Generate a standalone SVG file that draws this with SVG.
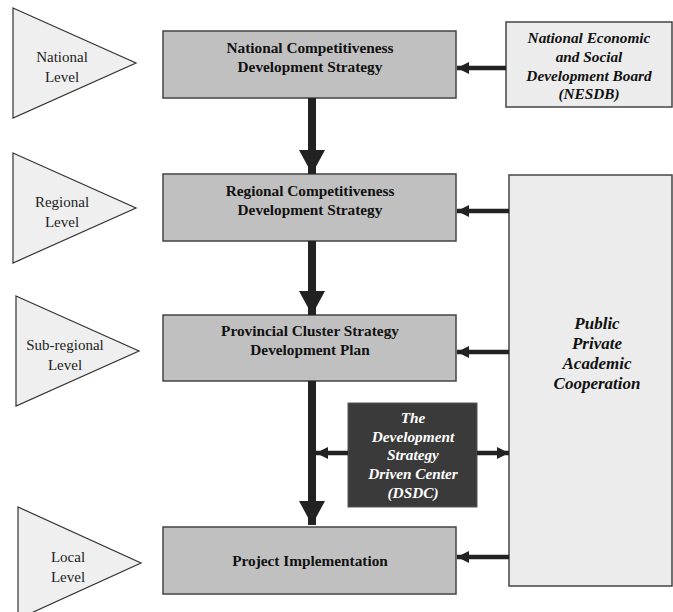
<svg xmlns="http://www.w3.org/2000/svg" width="673" height="612" viewBox="0 0 673 612">
<defs>
<style>
.tri{fill:#efefef;stroke:#333;stroke-width:1.2}
.box{fill:#c0c0c0;stroke:#444;stroke-width:1.5}
.lbox{fill:#ececec;stroke:#444;stroke-width:1.5}
.dbox{fill:#3a3a3a;stroke:#555;stroke-width:1}
.tl{font-family:"Liberation Serif",serif;font-size:15px;fill:#222;text-anchor:middle}
.tb{font-family:"Liberation Serif",serif;font-size:15.3px;font-weight:bold;fill:#111;text-anchor:middle}
.tbi{font-family:"Liberation Serif",serif;font-size:15.3px;font-weight:bold;font-style:italic;fill:#111;text-anchor:middle}
.tbig{font-family:"Liberation Serif",serif;font-size:17px;font-weight:bold;font-style:italic;fill:#111;text-anchor:middle}
.tw{font-family:"Liberation Serif",serif;font-size:15.3px;font-weight:bold;font-style:italic;fill:#fff;text-anchor:middle}
.big{stroke:#222;stroke-width:8;fill:none}
.sm{stroke:#222;stroke-width:4.5;fill:none}
</style>
<marker id="bh" markerUnits="userSpaceOnUse" markerWidth="24" markerHeight="26" refX="24" refY="13" orient="auto" viewBox="0 0 24 26"><path d="M0,0 L24,13 L0,26 z" fill="#222"/></marker>
<marker id="sh" markerUnits="userSpaceOnUse" markerWidth="12" markerHeight="12" refX="12" refY="6" orient="auto" viewBox="0 0 12 12"><path d="M0,0 L12,6 L0,12 z" fill="#222"/></marker>
</defs>
<g id="level-national"><polygon class="tri" points="13,8 136,63 13,118"/><text class="tl" x="62" y="62">National</text><text class="tl" x="62" y="82">Level</text></g>
<g id="level-regional"><polygon class="tri" points="13,153 136,208 13,263"/><text class="tl" x="62" y="207">Regional</text><text class="tl" x="62" y="227">Level</text></g>
<g id="level-subregional"><polygon class="tri" points="16,296 139,351 16,406"/><text class="tl" x="65" y="350">Sub-regional</text><text class="tl" x="65" y="370">Level</text></g>
<g id="level-local"><polygon class="tri" points="18,507 141,563 18,619"/><text class="tl" x="68" y="562">Local</text><text class="tl" x="68" y="582">Level</text></g>
<g id="national-strategy"><rect class="box" x="163" y="31" width="293" height="67"/><text class="tb" x="310" y="53">National Competitiveness</text><text class="tb" x="310" y="72">Development Strategy</text></g>
<g id="nesdb"><rect class="lbox" x="506" y="22" width="166" height="85"/><text class="tbi" x="589" y="43">National Economic</text><text class="tbi" x="589" y="62">and Social</text><text class="tbi" x="589" y="81">Development Board</text><text class="tbi" x="589" y="99">(NESDB)</text></g>
<g id="regional-strategy"><rect class="box" x="163" y="174" width="293" height="67"/><text class="tb" x="310" y="196">Regional Competitiveness</text><text class="tb" x="310" y="215">Development Strategy</text></g>
<g id="ppac"><rect class="lbox" x="509" y="175" width="163" height="411"/><text class="tbig" x="597" y="329">Public</text><text class="tbig" x="597" y="349">Private</text><text class="tbig" x="597" y="369">Academic</text><text class="tbig" x="597" y="389">Cooperation</text></g>
<g id="provincial-plan"><rect class="box" x="163" y="315" width="293" height="66"/><text class="tb" x="310" y="336">Provincial Cluster Strategy</text><text class="tb" x="310" y="355">Development Plan</text></g>
<g id="dsdc"><rect class="dbox" x="348" y="403" width="129" height="104"/><text class="tw" x="413" y="423">The</text><text class="tw" x="413" y="442">Development</text><text class="tw" x="413" y="460">Strategy</text><text class="tw" x="413" y="479">Driven Center</text><text class="tw" x="413" y="498">(DSDC)</text></g>
<g id="project"><rect class="box" x="163" y="527" width="293" height="67"/><text class="tb" x="310" y="566">Project Implementation</text></g>
<g id="connectors">
<line class="big" x1="312" y1="98" x2="312" y2="174" marker-end="url(#bh)"/>
<line class="big" x1="312" y1="241" x2="312" y2="315" marker-end="url(#bh)"/>
<line class="big" x1="312" y1="381" x2="312" y2="525" marker-end="url(#bh)"/>
<line class="sm" x1="506" y1="68" x2="457" y2="68" marker-end="url(#sh)"/>
<line class="sm" x1="509" y1="211" x2="457" y2="211" marker-end="url(#sh)"/>
<line class="sm" x1="509" y1="352" x2="457" y2="352" marker-end="url(#sh)"/>
<line class="sm" x1="509" y1="557" x2="457" y2="557" marker-end="url(#sh)"/>
<line class="sm" x1="477" y1="453" x2="509" y2="453" marker-end="url(#sh)"/>
<line class="sm" x1="348" y1="453" x2="316" y2="453" marker-end="url(#sh)"/>
</g>
</svg>
